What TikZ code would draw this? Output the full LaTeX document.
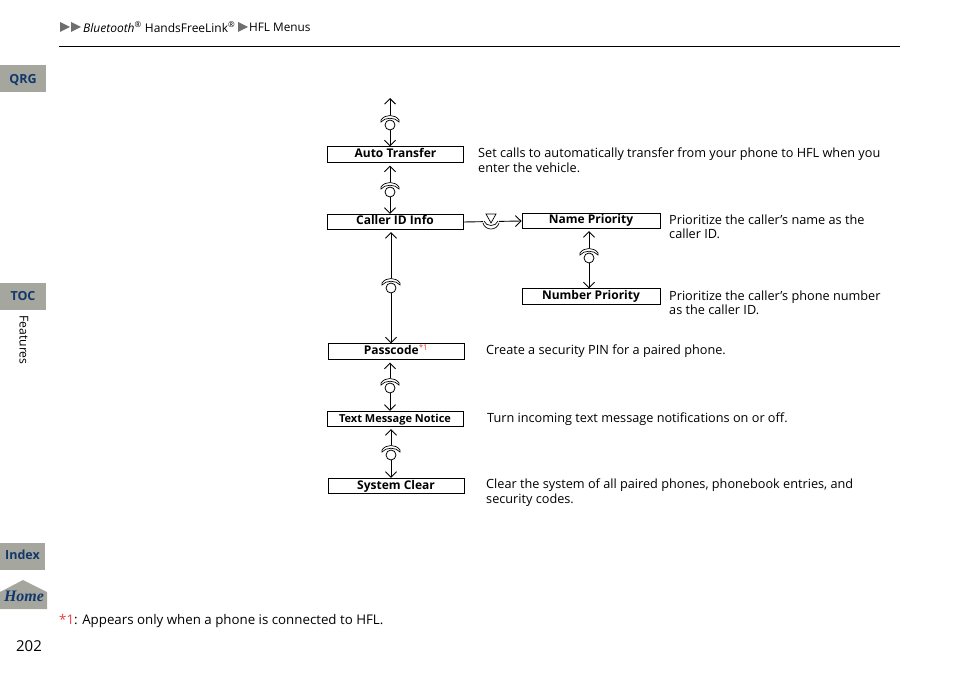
\documentclass[tikz,border=0pt]{standalone}
\usepackage{fontspec}
\setmainfont{Open Sans}
\newfontfamily\homefont{Liberation Serif}
\usetikzlibrary{arrows.meta}
\definecolor{tabgrey}{HTML}{A5A69E}
\definecolor{tabblue}{HTML}{12386B}
\definecolor{markgrey}{HTML}{6E6E6E}
\definecolor{notered}{HTML}{E8403F}
\tikzset{
 menubox/.style={draw, line width=0.9pt, minimum width=136pt, minimum height=15.5pt, inner sep=0pt, text height=9pt, text depth=3pt, font=\fontsize{12}{12}\selectfont\bfseries},
 notetext/.style={anchor=west, align=left, inner sep=0pt, font=\fontsize{12.7}{14.5}\selectfont},
 tab/.style={fill=tabgrey, text=tabblue, minimum height=27pt, inner sep=0pt, font=\fontsize{12.5}{12.5}\selectfont\bfseries},
 link/.style={line width=0.9pt, {Straight Barb[length=5.5pt,width=11pt]}-{Straight Barb[length=5.5pt,width=11pt]}},
 oneway/.style={line width=0.9pt, -{Straight Barb[length=5.5pt,width=11pt]}},
 dial/.style={circle, draw, fill=white, line width=0.8pt, minimum size=10pt, inner sep=0pt},
 pics/phoneup/.style={code={
  \fill[white] (-9,-10) rectangle (9,-3);
  \draw[line width=0.7pt] (-9,-5) .. controls (-5,-11) and (5,-11) .. (9,-5) -- (9,-3) .. controls (5,-8) and (-5,-8) .. (-9,-3) -- cycle;
  \node[dial] (-c) at (0,0) {};
 }},
 pics/phonedown/.style={code={
  \fill[white] (-8,-9) rectangle (8,9);
  \draw[line width=0.7pt] (-5,-8) -- (5,-8) -- (0,1) -- cycle;
  \draw[line width=0.7pt] (-7,-1) .. controls (-5,5) and (5,5) .. (7,-1);
  \draw[line width=0.7pt] (-8,1) .. controls (-6,9) and (6,9) .. (8,1);
 }}
}
\begin{document}
\begin{tikzpicture}[x=1pt,y=-1pt]
 \useasboundingbox (0,0) rectangle (954,674);
 % running head
 \fill[markgrey] (60,22) -- (70,27) -- (60,32) -- cycle;
 \fill[markgrey] (71,22) -- (81,27) -- (71,32) -- cycle;
 \node[notetext, font=\fontsize{12}{12}\selectfont] (head) at (83,27) {\textit{Bluetooth}\textsuperscript{®} HandsFreeLink\textsuperscript{®}};
 \fill[markgrey] (238,22) -- (248,27) -- (238,32) -- cycle;
 \node[notetext, font=\fontsize{11.8}{11.8}\selectfont] (headend) at (249,27.5) {HFL Menus};
 \draw[line width=0.9pt] (59,46) -- (900,46);
 % side tabs
 \node[tab, minimum width=46pt, text height=11pt, text depth=0pt] (qrg) at (23,78.5) {QRG};
 \node[tab, minimum width=46pt, text height=9pt, text depth=1pt] (toc) at (23,296.5) {TOC};
 \node[rotate=-90, inner sep=0pt, font=\fontsize{12.2}{12.2}\selectfont] (side) at (24,340) {Features};
 \node[tab, minimum width=45pt, text height=9pt, text depth=3pt] (index) at (22.5,556.5) {Index};
 \fill[tabgrey] (0,592) -- (23,580) -- (47,592) -- (47,609) -- (0,609) -- cycle;
 \node[text=tabblue, inner sep=0pt, font=\homefont\fontsize{16}{16}\selectfont\bfseries\itshape] (home) at (24,596) {Home};
 \node[inner sep=0pt, font=\fontsize{15}{15}\selectfont] (page) at (29,646) {202};
 % menu boxes
 \node[menubox] (auto) at (395.5,154.5) {Auto Transfer};
 \node[menubox] (caller) at (395,222) {Caller ID Info};
 \node[menubox, minimum width=138pt] (name) at (591,221) {Name Priority};
 \node[menubox, minimum width=138pt] (number) at (591,296.5) {Number Priority};
 \node[menubox] (pass) at (396,351.5) {Passcode\textcolor{notered}{\textsuperscript{\mdseries*1}}};
 \node[menubox, font=\fontsize{11}{11}\selectfont\bfseries] (text) at (395,419) {Text Message Notice};
 \node[menubox] (clear) at (396,486) {System Clear};
 % connectors
 \coordinate (top) at (390,98);
 \draw[link] (top) -- ([xshift=-5.5pt]auto.north);
 \draw[link] ([xshift=-5.5pt,yshift=-3pt]auto.south) -- ([xshift=-5pt]caller.north);
 \draw[link] ([xshift=-4pt,yshift=-2pt]caller.south) -- ([xshift=-5pt]pass.north);
 \draw[link] ([xshift=-6pt,yshift=-3pt]pass.south) -- ([xshift=-5pt]text.north);
 \draw[link] ([xshift=-4pt,yshift=-2pt]text.south) -- ([xshift=-5pt]clear.north);
 \draw[link] ([xshift=-2pt,yshift=-2pt]name.south) -- ([xshift=-2pt]number.north);
 \draw[oneway] (caller.east) -- (name.west);
 % dial icons
 \pic at (390,125) {phoneup};
 \pic at (390,192) {phoneup};
 \pic at (391,288) {phoneup};
 \pic at (390,388) {phoneup};
 \pic at (391,455) {phoneup};
 \pic at (589,258) {phoneup};
 \pic at (491,222) {phonedown};
 % descriptions
 \node[notetext] (autonote) at (478,160) {Set calls to automatically transfer from your phone to HFL when you\\enter the vehicle.};
 \node[notetext] (namenote) at (669,227) {Prioritize the caller’s name as the\\caller ID.};
 \node[notetext] (numbernote) at (669,303) {Prioritize the caller’s phone number\\as the caller ID.};
 \node[notetext] (passnote) at (486,351.5) {Create a security PIN for a paired phone.};
 \node[notetext] (textnote) at (487,419.5) {Turn incoming text message notifications on or off.};
 \node[notetext] (clearnote) at (486,492.5) {Clear the system of all paired phones, phonebook entries, and\\security codes.};
 \node[notetext, font=\fontsize{13.3}{13.3}\selectfont] (foot) at (59,621) {\textcolor{notered}{*1}: Appears only when a phone is connected to HFL.};
\end{tikzpicture}
\end{document}
